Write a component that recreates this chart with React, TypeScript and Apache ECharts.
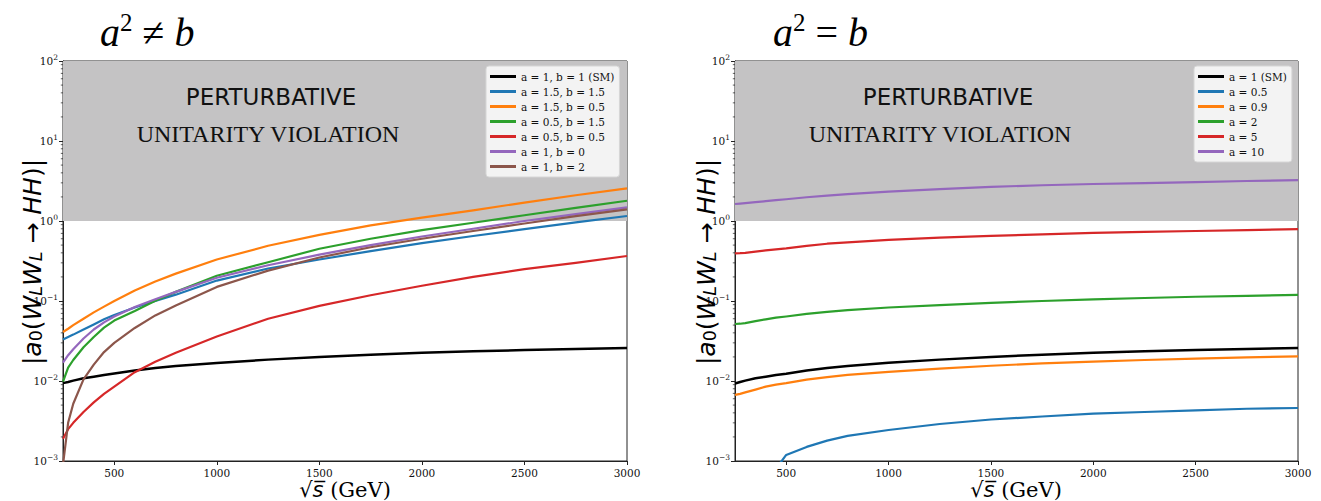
import React, { useEffect, useRef } from "react";
import * as echarts from "echarts";

const XS = [250, 275, 300, 350, 400, 450, 500, 600, 700, 800, 1000, 1250, 1500, 1750, 2000, 2250, 2500, 2750, 3000];
const X_TICKS = [500, 1000, 1500, 2000, 2500, 3000];
const MINOR_MULT = [2, 3, 4, 5, 6, 7, 8, 9];
const DECADES = [0.001, 0.01, 0.1, 1, 10];

// Left panel: a^2 != b
const LEFT_NAMES = ["a = 1, b = 1 (SM)", "a = 1.5, b = 1.5", "a = 1.5, b = 0.5", "a = 0.5, b = 1.5", "a = 0.5, b = 0.5", "a = 1, b = 0", "a = 1, b = 2"];
const L_SM = [0.0094, 0.0097, 0.0101, 0.0108, 0.0113, 0.0119, 0.0124, 0.0135, 0.0145, 0.0154, 0.0168, 0.0185, 0.0200, 0.0213, 0.0225, 0.0235, 0.0244, 0.0252, 0.0259];
const L_15_15 = [0.033, 0.0355, 0.038, 0.044, 0.051, 0.059, 0.067, 0.083, 0.10, 0.12, 0.18, 0.255, 0.33, 0.42, 0.53, 0.65, 0.79, 0.96, 1.155];
const L_15_05 = [0.041, 0.045, 0.050, 0.060, 0.072, 0.085, 0.10, 0.135, 0.175, 0.22, 0.33, 0.49, 0.67, 0.88, 1.10, 1.36, 1.70, 2.10, 2.56];
const L_05_15 = [0.0098, 0.0147, 0.0183, 0.0264, 0.0355, 0.0464, 0.057, 0.075, 0.101, 0.13, 0.207, 0.305, 0.45, 0.60, 0.77, 0.95, 1.18, 1.46, 1.79];
const L_05_05 = [0.0019, 0.0025, 0.0030, 0.0041, 0.0054, 0.0069, 0.0085, 0.0129, 0.0174, 0.0226, 0.036, 0.06, 0.087, 0.118, 0.155, 0.20, 0.25, 0.30, 0.365];
const L_1_0 = [0.017, 0.021, 0.025, 0.034, 0.044, 0.054, 0.064, 0.084, 0.105, 0.13, 0.195, 0.28, 0.38, 0.50, 0.64, 0.80, 1.0, 1.22, 1.48];
const L_1_2 = [0.0009, 0.003, 0.0052, 0.0105, 0.016, 0.023, 0.030, 0.046, 0.066, 0.088, 0.15, 0.24, 0.35, 0.47, 0.60, 0.75, 0.93, 1.15, 1.40];

// Right panel: a^2 = b
const RIGHT_NAMES = ["a = 1 (SM)", "a = 0.5", "a = 0.9", "a = 2", "a = 5", "a = 10"];
const R_SM = [0.0093, 0.0097, 0.0101, 0.0108, 0.0113, 0.0119, 0.0123, 0.0135, 0.0145, 0.0154, 0.0169, 0.0185, 0.0200, 0.0213, 0.0225, 0.0235, 0.0244, 0.0252, 0.0259];
const R_05 = [null, null, null, null, null, 0.0008, 0.00119, 0.0015, 0.0018, 0.00206, 0.00244, 0.0029, 0.0033, 0.0036, 0.0039, 0.0041, 0.0043, 0.0045, 0.0046];
const R_09 = [0.0067, 0.0069, 0.0072, 0.0078, 0.0085, 0.0090, 0.0094, 0.0104, 0.0112, 0.0119, 0.0130, 0.0143, 0.0155, 0.0166, 0.0175, 0.0183, 0.0190, 0.0197, 0.0203];
const R_2 = [0.0516, 0.052, 0.053, 0.056, 0.059, 0.062, 0.064, 0.069, 0.073, 0.077, 0.083, 0.089, 0.095, 0.100, 0.105, 0.109, 0.113, 0.116, 0.119];
const R_5 = [0.394, 0.396, 0.40, 0.415, 0.43, 0.443, 0.455, 0.49, 0.52, 0.54, 0.58, 0.62, 0.65, 0.68, 0.71, 0.73, 0.75, 0.77, 0.79];
const R_10 = [1.63, 1.65, 1.67, 1.72, 1.77, 1.82, 1.87, 1.98, 2.08, 2.17, 2.33, 2.50, 2.67, 2.80, 2.90, 2.98, 3.07, 3.16, 3.25];

const COLORS = ["#000000", "#1f77b4", "#ff7f0e", "#2ca02c", "#d62728", "#9467bd", "#8c564b"];

const pairs = (vals: (number | null)[]) =>
  XS.map((x, i) => [x, vals[i]]).filter((p) => p[1] !== null);

const minorData = () => {
  const out: number[][] = [];
  DECADES.forEach((d) => MINOR_MULT.forEach((m) => out.push([250, m * d])));
  return out;
};

const yLabel = (v: number) => {
  const e = Math.round(Math.log10(v));
  return "10{sup|" + (e < 0 ? "\u2212" + -e : String(e)) + "}";
};

const SERIF = "'DejaVu Serif', serif";
const SANS = "'DejaVu Sans', sans-serif";
const TIMES = "'Liberation Serif', serif";

export default function App() {
  const ref = useRef<HTMLDivElement>(null);
  useEffect(() => {
    if (!ref.current) return;
    const chart = echarts.init(ref.current, null, { renderer: "svg" });

    const grids = [
      { left: 63, top: 61, width: 564, height: 400 },
      { left: 735, top: 61, width: 563, height: 400 },
    ];

    const xAxes = [0, 1].map((g) => ({
      type: "value",
      gridIndex: g,
      min: 250,
      max: 3000,
      splitLine: { show: false },
      axisLine: { lineStyle: { color: "#222", width: 1 } },
      axisTick: { length: 4, lineStyle: { color: "#222" }, customValues: X_TICKS },
      axisLabel: {
        customValues: X_TICKS,
        formatter: (v: number) => String(Math.round(v)),
        fontFamily: SERIF,
        fontSize: 10.5,
        lineHeight: 11,
        color: "#111",
        margin: 6,
      },
    }));

    const yAxes = [0, 1].map((g) => ({
      type: "log",
      logBase: 10,
      gridIndex: g,
      min: 0.001,
      max: 100,
      splitLine: { show: false },
      axisLine: { lineStyle: { color: "#222", width: 1 } },
      axisTick: { length: 4, lineStyle: { color: "#222" } },
      axisLabel: {
        formatter: yLabel,
        fontFamily: SERIF,
        fontSize: 10.5,
        color: "#111",
        margin: 5,
        rich: {
          sup: { fontSize: 7.5, fontFamily: SERIF, color: "#111", padding: [0, 0, 7, 0] },
        },
      },
    }));

    const mkLine = (name: string, vals: (number | null)[], color: string, g: number, width = 2.2) => ({
      type: "line",
      name,
      xAxisIndex: g,
      yAxisIndex: g,
      data: pairs(vals),
      showSymbol: false,
      symbol: "none",
      smooth: false,
      clip: true,
      z: 3,
      lineStyle: { color, width, join: "round" },
      itemStyle: { color },
    });

    const shade = (g: number) => ({
      type: "line",
      name: "shade" + g,
      xAxisIndex: g,
      yAxisIndex: g,
      data: [[250, 1]],
      symbol: "none",
      lineStyle: { opacity: 0 },
      z: 1,
      silent: true,
      markArea: {
        silent: true,
        itemStyle: { color: "#c4c3c4" },
        data: [[{ xAxis: 250, yAxis: 1 }, { xAxis: 3000, yAxis: 100 }]],
      },
    });

    const minor = (g: number) => ({
      type: "custom",
      name: "minor" + g,
      xAxisIndex: g,
      yAxisIndex: g,
      silent: true,
      clip: false,
      z: 4,
      data: minorData(),
      renderItem: (params: any, api: any) => {
        const p = api.coord([api.value(0), api.value(1)]);
        return {
          type: "line",
          shape: { x1: p[0] - 2.2, y1: p[1], x2: p[0], y2: p[1] },
          style: { stroke: "#222", lineWidth: 0.7 },
        };
      },
    });

    const leftVals = [L_SM, L_15_15, L_15_05, L_05_15, L_05_05, L_1_0, L_1_2];
    const rightVals = [R_SM, R_05, R_09, R_2, R_5, R_10];

    const series: any[] = [shade(0), shade(1)];
    leftVals.forEach((v, i) => series.push(mkLine(LEFT_NAMES[i], v, COLORS[i], 0, i === 0 ? 2.5 : 2.2)));
    rightVals.forEach((v, i) => series.push(mkLine(RIGHT_NAMES[i], v, COLORS[i], 1, i === 0 ? 2.5 : 2.2)));
    series.push(minor(0), minor(1));

    const legendBase = {
      orient: "vertical",
      itemWidth: 26,
      itemHeight: 3,
      itemGap: 4,
      icon: "rect",
      backgroundColor: "rgba(255,255,255,0.8)",
      borderColor: "#d6d6d6",
      borderWidth: 1,
      borderRadius: 3,
      padding: [5, 5, 5, 4],
      textStyle: { fontFamily: SERIF, fontSize: 10.5, color: "#111" },
      selectedMode: false,
    };

    const titleRich = {
      i: { fontFamily: TIMES, fontStyle: "italic", fontSize: 40, color: "#000" },
      n: { fontFamily: TIMES, fontSize: 40, color: "#000" },
      s: { fontFamily: TIMES, fontSize: 25, color: "#000", padding: [0, 0, 20, 0] },
    };

    const yNameRich = {
      n: { fontFamily: SANS, fontSize: 25, color: "#000" },
      i: { fontFamily: SANS, fontStyle: "italic", fontSize: 25, color: "#000" },
      sub: { fontFamily: SANS, fontSize: 17.5, color: "#000", padding: [8, 0, 0, 0] },
      subi: { fontFamily: SANS, fontStyle: "italic", fontSize: 17.5, color: "#000", padding: [8, 0, 0, 0] },
    };
    const yNameText = "{n||}{i|a}{sub|0}{n|(}{i|W}{subi|L}{i|W}{subi|L}{n| \u2192 }{i|HH}{n|)|}";

    const xNameRich = {
      m: { fontFamily: SANS, fontSize: 21, lineHeight: 20, color: "#000" },
      mi: { fontFamily: SANS, fontStyle: "italic", fontSize: 21, lineHeight: 20, color: "#000" },
      n: { fontFamily: SERIF, fontSize: 21, lineHeight: 20, color: "#000" },
    };
    const xNameText = "{m|\u221A}{mi|s\u0305}{n| (GeV)}";

    const bigText = (x: number, y: number, text: string, font: string, size: number) => ({
      type: "text",
      x,
      y,
      z: 10,
      style: { text, fontFamily: font, fontSize: size, fill: "#111", align: "center", verticalAlign: "middle" },
    });

    const graphic: any[] = [
      { type: "text", x: 100, y: 32, z: 10, style: { text: "{i|a}{s|2}{n| \u2260 }{i|b}", rich: titleRich, verticalAlign: "middle" } },
      { type: "text", x: 773, y: 32, z: 10, style: { text: "{i|a}{s|2}{n| = }{i|b}", rich: titleRich, verticalAlign: "middle" } },
      bigText(271, 97, "PERTURBATIVE", SANS, 23),
      bigText(268, 134, "UNITARITY VIOLATION", TIMES, 24),
      bigText(948, 97, "PERTURBATIVE", SANS, 23),
      bigText(940, 134, "UNITARITY VIOLATION", TIMES, 24),
      { type: "text", x: 32, y: 262, rotation: Math.PI / 2, z: 10, style: { text: yNameText, rich: yNameRich, align: "center", verticalAlign: "middle" } },
      { type: "text", x: 706, y: 262, rotation: Math.PI / 2, z: 10, style: { text: yNameText, rich: yNameRich, align: "center", verticalAlign: "middle" } },
      { type: "text", x: 345, y: 490, z: 10, style: { text: xNameText, rich: xNameRich, align: "center", verticalAlign: "middle" } },
      { type: "text", x: 1016, y: 490, z: 10, style: { text: xNameText, rich: xNameRich, align: "center", verticalAlign: "middle" } },
    ];

    chart.setOption({
      animation: false,
      backgroundColor: "#ffffff",
      grid: grids.map((g) => ({ ...g, show: true, borderColor: "#222", borderWidth: 1, backgroundColor: "transparent" })),
      xAxis: xAxes,
      yAxis: yAxes,
      legend: [
        { ...legendBase, left: 486, top: 66, data: LEFT_NAMES },
        { ...legendBase, left: 1194, top: 66, data: RIGHT_NAMES },
      ],
      graphic,
      series,
    });
    return () => chart.dispose();
  }, []);
  return <div ref={ref} style={{ position: "absolute", left: 0, top: 0, width: 1321, height: 501 }} />;
}
